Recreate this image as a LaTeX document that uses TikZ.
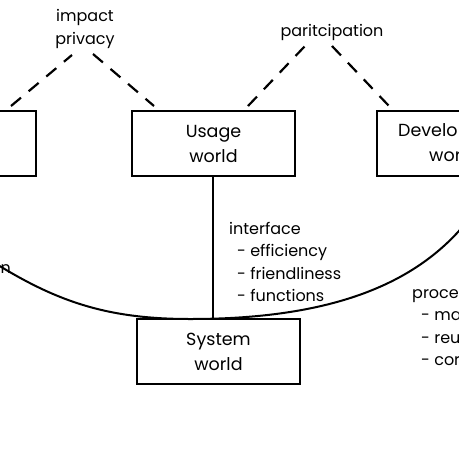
\documentclass[tikz,border=0pt]{standalone}
\usepackage{fontspec}
\setmainfont{Poppins}
\usetikzlibrary{calc}
\begin{document}
\begin{tikzpicture}[x=1pt,y=-1pt,
  world/.style={draw,line width=2pt,minimum width=163pt,minimum height=65pt,align=center,font=\fontsize{17.5}{25}\selectfont,inner sep=0pt},
  wtxt/.style={font=\fontsize{17.5}{25}\selectfont,inner sep=0pt,anchor=base west},
  lbl/.style={font=\fontsize{16}{22.5}\selectfont,inner sep=0pt},
  item/.style={font=\fontsize{16}{22.5}\selectfont,inner sep=0pt,anchor=base west},
  dashline/.style={line width=2.2pt,dash pattern=on 13pt off 10pt},
  link/.style={line width=2pt}]
\useasboundingbox (0,0) rectangle (459,459);
\clip (0,0) rectangle (459,459);
\fill[white] (0,0) rectangle (459,459);
\node[world] (soc) at (-45.5,143.5) {};
\node[world] (use) at (213.5,143.5) {Usage\\world};
\node[world] (dev) at (458.5,143.5) {};
\node[wtxt] (dev1) at (398,136) {Develo};
\node[wtxt] (dev2) at (429,161) {wor};
\node[world] (sys) at (218.5,351.5) {System\\world};
\node[lbl,align=center] (imp) at (85,29) {impact\\privacy};
\node[lbl] (par) at (332,32) {paritcipation};
\node[item] (ifc) at (229,234) {interface};
\node[item] (if1) at (237,256.5) {- efficiency};
\node[item] (if2) at (237,279) {- friendliness};
\node[item] (if3) at (237,301.5) {- functions};
\node[item] (pr) at (412,298) {proce};
\node[item] (pr1) at (421,320.5) {- ma};
\node[item] (pr2) at (421,343) {- reu};
\node[item] (pr3) at (421,365.5) {- cor};
\node[lbl,anchor=base east] (com) at (11,273) {n};
\draw[dashline] ($(soc.north east)+(-26,-4)$) -- (72,55);
\draw[dashline] (93,54) -- ($(use.north west)+(23,-4)$);
\draw[dashline] ($(use.north east)+(-48,-4)$) -- (305,46);
\draw[dashline] (332,46) -- ($(dev.north west)+(13,-4)$);
\draw[line width=1.6pt] (use.south -| 213,0) -- (sys.north -| 213,0);
\coordinate (cl) at (-2,265);
\coordinate (cm) at (190,319);
\coordinate (cr) at (465,224);
\draw[link] (cl) .. controls (60,303) and (110,319) .. (cm) .. controls (320,319) and (410,290) .. (cr);
\end{tikzpicture}
\end{document}
